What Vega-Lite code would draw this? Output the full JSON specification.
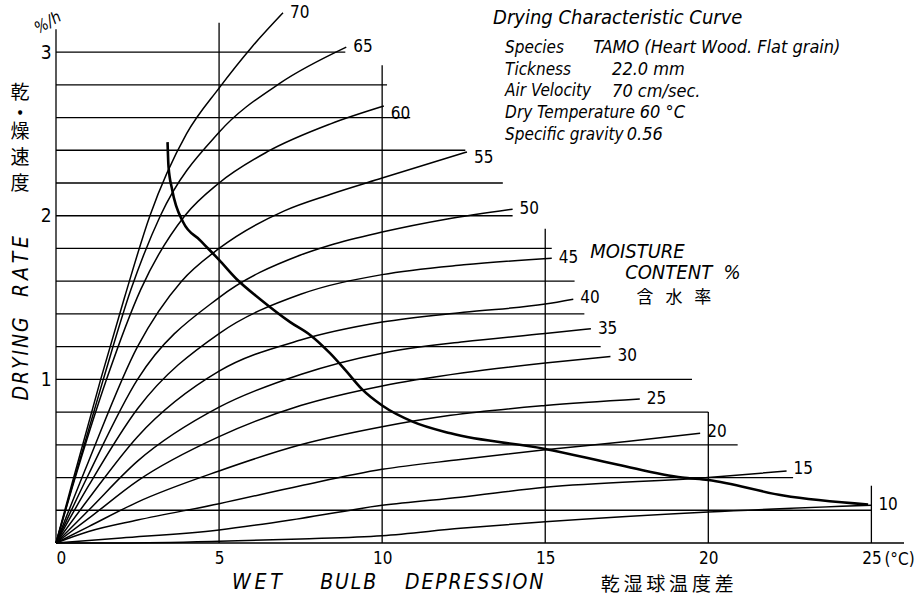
{
  "$schema": "https://vega.github.io/schema/vega-lite/v6.json",
  "width": 848,
  "height": 540,
  "autosize": {"type": "none"},
  "padding": {"left": 56, "top": 3, "right": 19, "bottom": 55},
  "background": "white",
  "config": {
    "view": {"stroke": null},
    "font": "DejaVu Sans Condensed, DejaVu Sans, sans-serif",
    "text": {"color": "black"}
  },
  "datasets": {
    "hgrid": [
      {"y": 0.0, "xs": 0, "xe": 26},
      {"y": 0.2, "xs": 0, "xe": 25},
      {"y": 0.4, "xs": 0, "xe": 22.6},
      {"y": 0.6, "xs": 0, "xe": 20.9},
      {"y": 0.8, "xs": 0, "xe": 20},
      {"y": 1.0, "xs": 0, "xe": 19.5},
      {"y": 1.2, "xs": 0, "xe": 16.7},
      {"y": 1.4, "xs": 0, "xe": 16.2},
      {"y": 1.6, "xs": 0, "xe": 15.9},
      {"y": 1.8, "xs": 0, "xe": 15.2},
      {"y": 2.0, "xs": 0, "xe": 14},
      {"y": 2.2, "xs": 0, "xe": 13.7},
      {"y": 2.4, "xs": 0, "xe": 12.55},
      {"y": 2.6, "xs": 0, "xe": 10.86},
      {"y": 2.8, "xs": 0, "xe": 10.15},
      {"y": 3.0, "xs": 0, "xe": 8.87}
    ],
    "vgrid": [
      {"x": 0, "ys": 0, "ye": 3.14},
      {"x": 5, "ys": 0, "ye": 3.18},
      {"x": 10, "ys": 0, "ye": 2.92},
      {"x": 15, "ys": 0, "ye": 1.92},
      {"x": 20, "ys": 0, "ye": 0.8},
      {"x": 25, "ys": 0, "ye": 0.35}
    ],
    "curves": [
      {"mc": 70, "x": 0, "y": 0}, {"mc": 70, "x": 0.5, "y": 0.37}, {"mc": 70, "x": 1.37, "y": 1.0}, {"mc": 70, "x": 2.1, "y": 1.5}, {"mc": 70, "x": 2.88, "y": 2.0}, {"mc": 70, "x": 4.0, "y": 2.5}, {"mc": 70, "x": 5.0, "y": 2.78}, {"mc": 70, "x": 6.0, "y": 3.03}, {"mc": 70, "x": 6.96, "y": 3.24},
      {"mc": 65, "x": 0, "y": 0}, {"mc": 65, "x": 0.5, "y": 0.35}, {"mc": 65, "x": 1.45, "y": 1.0}, {"mc": 65, "x": 2.3, "y": 1.55}, {"mc": 65, "x": 3.2, "y": 2.0}, {"mc": 65, "x": 5.0, "y": 2.51}, {"mc": 65, "x": 6.87, "y": 2.81}, {"mc": 65, "x": 8.9, "y": 3.03},
      {"mc": 60, "x": 0, "y": 0}, {"mc": 60, "x": 0.5, "y": 0.34}, {"mc": 60, "x": 1.55, "y": 1.0}, {"mc": 60, "x": 2.6, "y": 1.55}, {"mc": 60, "x": 3.95, "y": 2.0}, {"mc": 60, "x": 5.0, "y": 2.2}, {"mc": 60, "x": 6.47, "y": 2.39}, {"mc": 60, "x": 8.4, "y": 2.56}, {"mc": 60, "x": 10.05, "y": 2.67},
      {"mc": 55, "x": 0, "y": 0}, {"mc": 55, "x": 1.0, "y": 0.5}, {"mc": 55, "x": 2.5, "y": 1.2}, {"mc": 55, "x": 3.85, "y": 1.6}, {"mc": 55, "x": 5.0, "y": 1.8}, {"mc": 55, "x": 7.0, "y": 2.03}, {"mc": 55, "x": 8.4, "y": 2.13}, {"mc": 55, "x": 10.0, "y": 2.23}, {"mc": 55, "x": 12.6, "y": 2.39},
      {"mc": 50, "x": 0, "y": 0}, {"mc": 50, "x": 1.0, "y": 0.42}, {"mc": 50, "x": 2.5, "y": 1.0}, {"mc": 50, "x": 5.0, "y": 1.5}, {"mc": 50, "x": 7.5, "y": 1.76}, {"mc": 50, "x": 8.4, "y": 1.82}, {"mc": 50, "x": 10.0, "y": 1.9}, {"mc": 50, "x": 12.0, "y": 1.98}, {"mc": 50, "x": 14.0, "y": 2.04},
      {"mc": 45, "x": 0, "y": 0}, {"mc": 45, "x": 1.0, "y": 0.35}, {"mc": 45, "x": 2.5, "y": 0.82}, {"mc": 45, "x": 5.0, "y": 1.28}, {"mc": 45, "x": 7.5, "y": 1.52}, {"mc": 45, "x": 10.0, "y": 1.64}, {"mc": 45, "x": 12.5, "y": 1.7}, {"mc": 45, "x": 15.2, "y": 1.74},
      {"mc": 40, "x": 0, "y": 0}, {"mc": 40, "x": 1.0, "y": 0.27}, {"mc": 40, "x": 2.5, "y": 0.65}, {"mc": 40, "x": 5.0, "y": 1.05}, {"mc": 40, "x": 7.5, "y": 1.24}, {"mc": 40, "x": 10.0, "y": 1.35}, {"mc": 40, "x": 12.5, "y": 1.41}, {"mc": 40, "x": 15.0, "y": 1.46}, {"mc": 40, "x": 15.86, "y": 1.49},
      {"mc": 35, "x": 0, "y": 0}, {"mc": 35, "x": 1.0, "y": 0.2}, {"mc": 35, "x": 2.5, "y": 0.5}, {"mc": 35, "x": 5.0, "y": 0.83}, {"mc": 35, "x": 7.5, "y": 1.03}, {"mc": 35, "x": 10.0, "y": 1.16}, {"mc": 35, "x": 12.5, "y": 1.23}, {"mc": 35, "x": 15.0, "y": 1.28}, {"mc": 35, "x": 16.4, "y": 1.31},
      {"mc": 30, "x": 0, "y": 0}, {"mc": 30, "x": 1.0, "y": 0.15}, {"mc": 30, "x": 2.5, "y": 0.38}, {"mc": 30, "x": 5.0, "y": 0.65}, {"mc": 30, "x": 7.5, "y": 0.84}, {"mc": 30, "x": 10.0, "y": 0.96}, {"mc": 30, "x": 12.5, "y": 1.04}, {"mc": 30, "x": 15.0, "y": 1.1}, {"mc": 30, "x": 17.0, "y": 1.14},
      {"mc": 25, "x": 0, "y": 0}, {"mc": 25, "x": 1.0, "y": 0.1}, {"mc": 25, "x": 2.5, "y": 0.25}, {"mc": 25, "x": 5.0, "y": 0.44}, {"mc": 25, "x": 7.5, "y": 0.6}, {"mc": 25, "x": 10.0, "y": 0.71}, {"mc": 25, "x": 12.1, "y": 0.78}, {"mc": 25, "x": 15.0, "y": 0.84}, {"mc": 25, "x": 17.9, "y": 0.88},
      {"mc": 20, "x": 0, "y": 0}, {"mc": 20, "x": 1.0, "y": 0.07}, {"mc": 20, "x": 2.5, "y": 0.14}, {"mc": 20, "x": 5.0, "y": 0.24}, {"mc": 20, "x": 7.5, "y": 0.35}, {"mc": 20, "x": 10.0, "y": 0.45}, {"mc": 20, "x": 12.4, "y": 0.51}, {"mc": 20, "x": 15.0, "y": 0.57}, {"mc": 20, "x": 17.5, "y": 0.62}, {"mc": 20, "x": 19.75, "y": 0.67},
      {"mc": 15, "x": 0, "y": 0}, {"mc": 15, "x": 2.0, "y": 0.03}, {"mc": 15, "x": 5.0, "y": 0.08}, {"mc": 15, "x": 7.5, "y": 0.15}, {"mc": 15, "x": 10.0, "y": 0.23}, {"mc": 15, "x": 12.4, "y": 0.28}, {"mc": 15, "x": 15.0, "y": 0.34}, {"mc": 15, "x": 20.0, "y": 0.4}, {"mc": 15, "x": 22.4, "y": 0.44},
      {"mc": 10, "x": 0, "y": 0}, {"mc": 10, "x": 2.0, "y": 0.0}, {"mc": 10, "x": 5.0, "y": 0.01}, {"mc": 10, "x": 7.5, "y": 0.025}, {"mc": 10, "x": 10.0, "y": 0.045}, {"mc": 10, "x": 12.4, "y": 0.09}, {"mc": 10, "x": 15.0, "y": 0.13}, {"mc": 10, "x": 20.0, "y": 0.19}, {"mc": 10, "x": 25.0, "y": 0.23}
    ],
    "ends": [
      {"mc": "70", "x": 6.96, "y": 3.24},
      {"mc": "65", "x": 8.9, "y": 3.03},
      {"mc": "60", "x": 10.05, "y": 2.62},
      {"mc": "55", "x": 12.6, "y": 2.35},
      {"mc": "50", "x": 14.0, "y": 2.04},
      {"mc": "45", "x": 15.2, "y": 1.74},
      {"mc": "40", "x": 15.86, "y": 1.5},
      {"mc": "35", "x": 16.4, "y": 1.31},
      {"mc": "30", "x": 17.0, "y": 1.14},
      {"mc": "25", "x": 17.9, "y": 0.88},
      {"mc": "20", "x": 19.75, "y": 0.68},
      {"mc": "15", "x": 22.4, "y": 0.45},
      {"mc": "10", "x": 25.0, "y": 0.23}
    ],
    "crit": [
      {"x": 3.42, "y": 2.45}, {"x": 3.45, "y": 2.3}, {"x": 3.56, "y": 2.16}, {"x": 3.9, "y": 1.96}, {"x": 4.42, "y": 1.85},
      {"x": 5.0, "y": 1.73}, {"x": 5.55, "y": 1.61}, {"x": 6.26, "y": 1.49}, {"x": 7.18, "y": 1.35}, {"x": 7.8, "y": 1.27},
      {"x": 8.4, "y": 1.16}, {"x": 8.9, "y": 1.05}, {"x": 9.38, "y": 0.94}, {"x": 10.0, "y": 0.84}, {"x": 10.95, "y": 0.74},
      {"x": 12.1, "y": 0.67}, {"x": 15.0, "y": 0.575}, {"x": 17.2, "y": 0.48}, {"x": 19.2, "y": 0.4}, {"x": 20.0, "y": 0.385},
      {"x": 22.3, "y": 0.29}, {"x": 24.9, "y": 0.235}
    ],
    "one": [{"k": 1}]
  },
  "layer": [
    {
      "data": {"name": "hgrid"},
      "mark": {"type": "rule", "stroke": "black", "strokeWidth": 1.3},
      "encoding": {
        "x": {"field": "xs", "type": "quantitative", "scale": {"domain": [0, 26], "nice": false, "zero": false},
          "axis": {"values": [0, 5, 10, 15, 20, 25], "format": "d", "title": null, "domain": false, "ticks": false, "grid": false,
            "labelFontSize": 17, "labelPadding": 7, "labelColor": "black",
            "labelFont": "DejaVu Sans Condensed, DejaVu Sans, sans-serif"}},
        "x2": {"field": "xe"},
        "y": {"field": "y", "type": "quantitative", "scale": {"domain": [0, 3.3], "nice": false, "zero": false},
          "axis": {"values": [1, 2, 3], "format": "d", "title": null, "domain": false, "ticks": false, "grid": false,
            "labelFontSize": 19, "labelPadding": 5, "labelColor": "black",
            "labelFont": "DejaVu Sans Condensed, DejaVu Sans, sans-serif"}}
      }
    },
    {
      "data": {"name": "vgrid"},
      "mark": {"type": "rule", "stroke": "black", "strokeWidth": 1.3},
      "encoding": {
        "x": {"field": "x", "type": "quantitative", "scale": {"domain": [0, 26], "nice": false, "zero": false}},
        "y": {"field": "ys", "type": "quantitative", "scale": {"domain": [0, 3.3], "nice": false, "zero": false}},
        "y2": {"field": "ye"}
      }
    },
    {
      "data": {"name": "curves"},
      "mark": {"type": "line", "stroke": "black", "strokeWidth": 1.5, "interpolate": "monotone"},
      "encoding": {
        "x": {"field": "x", "type": "quantitative", "scale": {"domain": [0, 26], "nice": false, "zero": false}},
        "y": {"field": "y", "type": "quantitative", "scale": {"domain": [0, 3.3], "nice": false, "zero": false}},
        "detail": {"field": "mc", "type": "nominal"},
        "order": {"field": "x", "type": "quantitative"}
      }
    },
    {
      "data": {"name": "crit"},
      "mark": {"type": "line", "stroke": "black", "strokeWidth": 2.6, "interpolate": "monotone"},
      "encoding": {
        "x": {"field": "x", "type": "quantitative", "scale": {"domain": [0, 26], "nice": false, "zero": false}},
        "y": {"field": "y", "type": "quantitative", "scale": {"domain": [0, 3.3], "nice": false, "zero": false}},
        "order": {"field": "x", "type": "quantitative"}
      }
    },
    {
      "data": {"name": "ends"},
      "mark": {"type": "text", "align": "left", "baseline": "middle", "dx": 7, "fontSize": 17},
      "encoding": {
        "x": {"field": "x", "type": "quantitative", "scale": {"domain": [0, 26], "nice": false, "zero": false}},
        "y": {"field": "y", "type": "quantitative", "scale": {"domain": [0, 3.3], "nice": false, "zero": false}},
        "text": {"field": "mc"}
      }
    },
    {
      "data": {"name": "one"},
      "mark": {"type": "text", "align": "left", "baseline": "middle", "fontSize": 17, "dx": 13},
      "encoding": {"x": {"datum": 25}, "y": {"datum": -0.105}, "text": {"value": "(°C)"}}
    },
    {
      "data": {"name": "one"},
      "mark": {"type": "text", "align": "center", "baseline": "middle", "fontSize": 16, "fontStyle": "italic", "angle": 330},
      "encoding": {"x": {"datum": -0.25}, "y": {"datum": 3.18}, "text": {"value": "%/h"}}
    },
    {
      "data": {"name": "one"},
      "mark": {"type": "text", "align": "center", "baseline": "middle", "fontSize": 19, "font": "Noto Sans CJK JP"},
      "encoding": {"x": {"datum": -1.1}, "y": {"datum": 2.75}, "text": {"value": "乾"}}
    },
    {
      "data": {"name": "one"},
      "mark": {"type": "text", "align": "center", "baseline": "middle", "fontSize": 6},
      "encoding": {"x": {"datum": -1.1}, "y": {"datum": 2.632}, "text": {"value": "●"}}
    },
    {
      "data": {"name": "one"},
      "mark": {"type": "text", "align": "center", "baseline": "middle", "fontSize": 19, "lineHeight": 26, "font": "Noto Sans CJK JP"},
      "encoding": {"x": {"datum": -1.1}, "y": {"datum": 2.512}, "text": {"value": ["燥", "速", "度"]}}
    },
    {
      "data": {"name": "one"},
      "mark": {"type": "text", "align": "center", "baseline": "middle", "fontSize": 21, "fontStyle": "italic", "angle": 270},
      "encoding": {"x": {"datum": -1.04}, "y": {"datum": 1.125}, "text": {"value": "D\u200aR\u200aY\u200aI\u200aN\u200aG"}}
    },
    {
      "data": {"name": "one"},
      "mark": {"type": "text", "align": "center", "baseline": "middle", "fontSize": 21, "fontStyle": "italic", "angle": 270},
      "encoding": {"x": {"datum": -1.04}, "y": {"datum": 1.69}, "text": {"value": "R\u2009A\u2009T\u2009E"}}
    },
    {
      "data": {"name": "one"},
      "mark": {"type": "text", "align": "left", "baseline": "middle", "fontSize": 21, "fontStyle": "italic"},
      "encoding": {"x": {"datum": 5.4}, "y": {"datum": -0.245}, "text": {"value": "W\u2009E\u2009T"}}
    },
    {
      "data": {"name": "one"},
      "mark": {"type": "text", "align": "left", "baseline": "middle", "fontSize": 21, "fontStyle": "italic"},
      "encoding": {"x": {"datum": 8.1}, "y": {"datum": -0.245}, "text": {"value": "B\u200aU\u200aL\u200aB"}}
    },
    {
      "data": {"name": "one"},
      "mark": {"type": "text", "align": "left", "baseline": "middle", "fontSize": 21, "fontStyle": "italic"},
      "encoding": {"x": {"datum": 10.7}, "y": {"datum": -0.245}, "text": {"value": "D\u200aE\u200aP\u200aR\u200aE\u200aS\u200aS\u200aI\u200aO\u200aN"}}
    },
    {
      "data": {"name": "one"},
      "mark": {"type": "text", "align": "left", "baseline": "middle", "fontSize": 19, "font": "Noto Sans CJK JP"},
      "encoding": {"x": {"datum": 16.7}, "y": {"datum": -0.258}, "text": {"value": "乾\u2009湿\u2009球\u2009温\u2009度\u2009差"}}
    },
    {
      "data": {"name": "one"},
      "mark": {"type": "text", "align": "left", "baseline": "middle", "fontSize": 20, "fontStyle": "italic"},
      "encoding": {"x": {"datum": 13.4}, "y": {"datum": 3.21}, "text": {"value": "Drying Characteristic Curve"}}
    },
    {
      "data": {"name": "one"},
      "mark": {"type": "text", "align": "left", "baseline": "middle", "fontSize": 17, "fontStyle": "italic", "lineHeight": 21.7},
      "encoding": {"x": {"datum": 13.77}, "y": {"datum": 3.025},
        "text": {"value": ["Species", "Tickness", "Air Velocity", "Dry Temperature", "Specific gravity"]}}
    },
    {
      "data": {"name": "one"},
      "mark": {"type": "text", "align": "left", "baseline": "middle", "fontSize": 18, "fontStyle": "italic"},
      "encoding": {"x": {"datum": 16.47}, "y": {"datum": 3.025}, "text": {"value": "TAMO (Heart Wood. Flat grain)"}}
    },
    {
      "data": {"name": "one"},
      "mark": {"type": "text", "align": "left", "baseline": "middle", "fontSize": 18, "fontStyle": "italic"},
      "encoding": {"x": {"datum": 17.05}, "y": {"datum": 2.892}, "text": {"value": "22.0 mm"}}
    },
    {
      "data": {"name": "one"},
      "mark": {"type": "text", "align": "left", "baseline": "middle", "fontSize": 18, "fontStyle": "italic"},
      "encoding": {"x": {"datum": 17.05}, "y": {"datum": 2.759}, "text": {"value": "70 cm/sec."}}
    },
    {
      "data": {"name": "one"},
      "mark": {"type": "text", "align": "left", "baseline": "middle", "fontSize": 18, "fontStyle": "italic"},
      "encoding": {"x": {"datum": 17.9}, "y": {"datum": 2.627}, "text": {"value": "60 °C"}}
    },
    {
      "data": {"name": "one"},
      "mark": {"type": "text", "align": "left", "baseline": "middle", "fontSize": 18, "fontStyle": "italic"},
      "encoding": {"x": {"datum": 17.5}, "y": {"datum": 2.494}, "text": {"value": "0.56"}}
    },
    {
      "data": {"name": "one"},
      "mark": {"type": "text", "align": "left", "baseline": "middle", "fontSize": 20, "fontStyle": "italic"},
      "encoding": {"x": {"datum": 16.38}, "y": {"datum": 1.78}, "text": {"value": "MOISTURE"}}
    },
    {
      "data": {"name": "one"},
      "mark": {"type": "text", "align": "left", "baseline": "middle", "fontSize": 20, "fontStyle": "italic"},
      "encoding": {"x": {"datum": 17.45}, "y": {"datum": 1.65}, "text": {"value": "CONTENT\u00a0\u00a0%"}}
    },
    {
      "data": {"name": "one"},
      "mark": {"type": "text", "align": "left", "baseline": "middle", "fontSize": 17, "font": "Noto Sans CJK JP"},
      "encoding": {"x": {"datum": 17.8}, "y": {"datum": 1.5}, "text": {"value": "含\u2002\u2009水\u2002\u2009率"}}
    }
  ]
}
